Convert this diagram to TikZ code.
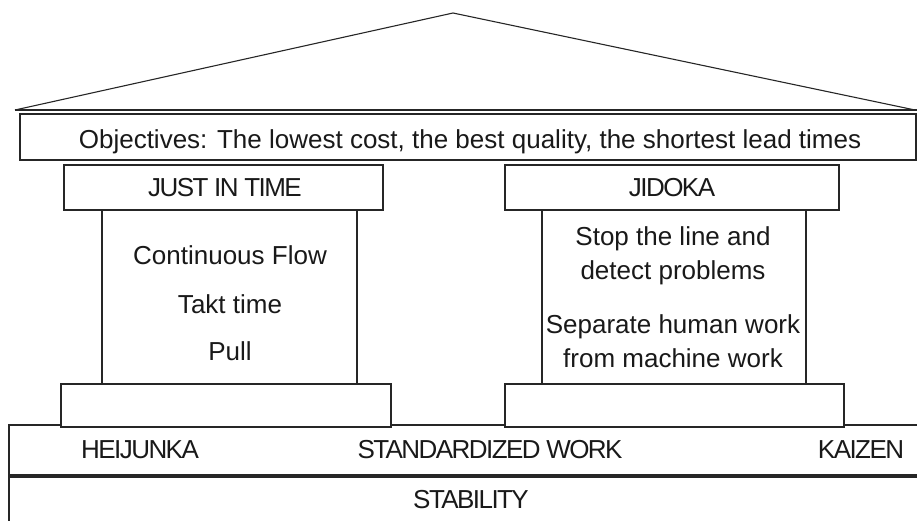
\documentclass[tikz,border=0pt]{standalone}
\usepackage{fontspec}
\setmainfont{Liberation Sans}
\usetikzlibrary{fit}

\tikzset{
  edge/.style={draw=black!85, line width=1.1pt},
  box/.style={edge, rectangle, inner sep=0pt, fill=white},
  label/.style={font=\fontsize{26}{30}\selectfont, text=black!90, inner sep=0pt, anchor=base},
  capslabel/.style={label, font=\fontsize{26}{30}\selectfont\addfontfeature{LetterSpace=-6}},
}

\begin{document}
\begin{tikzpicture}[x=1pt, y=-1pt]
  \useasboundingbox (0,0) rectangle (917,521);
  \clip (0,0) rectangle (917,521);

  % roof
  \coordinate (roofL) at (15,110);
  \coordinate (roofTop) at (453,13);
  \coordinate (roofR) at (915,110);
  \coordinate (roofEnd) at (920,110);
  \draw[edge] (roofL) -- (roofTop) -- (roofR);
  \draw[edge] (roofL) -- (roofEnd);

  % objectives beam
  \coordinate (objA) at (20,114);  \coordinate (objB) at (916,160);
  \node[box, fit={(objA)(objB)}] (obj) {};
  \node[label] (objT) at (470,149) {Objectives: The lowest cost, the best quality, the shortest lead times};

  % foundation rows
  \coordinate (fndA) at (9,425);   \coordinate (fndB) at (935,475);
  \node[box, fit={(fndA)(fndB)}] (fnd) {};
  \coordinate (stbA) at (9,477);   \coordinate (stbB) at (935,545);
  \node[box, fit={(stbA)(stbB)}] (stb) {};

  % left pillar: capital, shaft, plinth
  \coordinate (jitA) at (64,165);  \coordinate (jitB) at (383,210);
  \node[box, fit={(jitA)(jitB)}] (jit) {};
  \coordinate (lshA) at (102,210); \coordinate (lshB) at (357,384);
  \node[box, fit={(lshA)(lshB)}] (lshaft) {};
  \coordinate (lplA) at (61,384);  \coordinate (lplB) at (391,427);
  \node[box, fit={(lplA)(lplB)}] (lplinth) {};

  % right pillar: capital, shaft, plinth
  \coordinate (jdkA) at (505,165); \coordinate (jdkB) at (839,210);
  \node[box, fit={(jdkA)(jdkB)}] (jdk) {};
  \coordinate (rshA) at (542,210); \coordinate (rshB) at (806,384);
  \node[box, fit={(rshA)(rshB)}] (rshaft) {};
  \coordinate (rplA) at (505,384); \coordinate (rplB) at (844,427);
  \node[box, fit={(rplA)(rplB)}] (rplinth) {};

  % pillar titles
  \node[capslabel] (jitT) at (225,197) {JUST IN TIME};
  \node[capslabel] (jdkT) at (672,197) {JIDOKA};

  % left shaft contents
  \node[label] (flow) at (230,264) {Continuous Flow};
  \node[label] (takt) at (230,313) {Takt time};
  \node[label] (pull) at (230,360) {Pull};

  % right shaft contents
  \node[label] (stop1) at (673,245) {Stop the line and};
  \node[label] (stop2) at (673,279) {detect problems};
  \node[label] (sep1)  at (673,333) {Separate human work};
  \node[label] (sep2)  at (673,367) {from machine work};

  % foundation texts
  \node[capslabel] (heij) at (140,458) {HEIJUNKA};
  \node[capslabel] (std)  at (490,458) {STANDARDIZED WORK};
  \node[capslabel] (kai)  at (861,458) {KAIZEN};
  \node[capslabel] (stab) at (471,508) {STABILITY};
\end{tikzpicture}
\end{document}
